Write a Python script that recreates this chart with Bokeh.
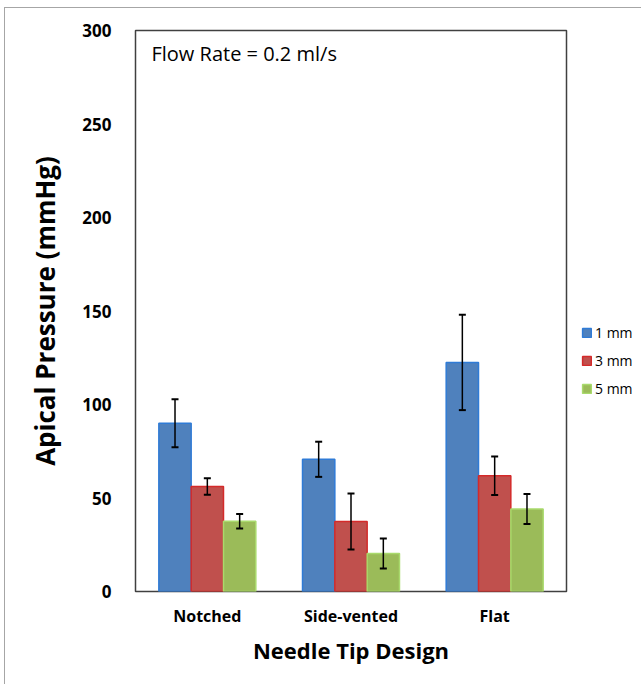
from bokeh.plotting import figure
from bokeh.layouts import row
from bokeh.models import (ColumnDataSource, FactorRange, Whisker, TeeHead, Legend,
                          LegendItem, FixedTicker, Label, Range1d)
from bokeh.transform import dodge
from bokeh.embed import file_html
from bokeh.resources import INLINE

# ---- data ----
categories = ["Notched", "Side-vented", "Flat"]
series = ["1 mm", "3 mm", "5 mm"]
mm1 = [90.0, 70.7, 122.5]
err1 = [12.8, 9.4, 25.5]
mm3 = [56.1, 37.4, 61.9]
err3 = [4.4, 15.0, 10.3]
mm5 = [37.6, 20.3, 44.1]
err5 = [3.9, 8.0, 8.0]
y_ticks = [0, 50, 100, 150, 200, 250, 300]
note = "Flow Rate = 0.2 ml/s"
x_title = "Needle Tip Design"
y_title = "Apical Pressure (mmHg)"

FONT = "Open Sans"
fills = ["#4F81BD", "#C0504D", "#9BBB59"]
lines = ["#2F7BD6", "#D42A2A", "#A9DA6C"]
offsets = [-0.225, 0.0, 0.225]
bw = 0.225

vals = [mm1, mm3, mm5]
errs = [err1, err3, err5]
data = {"cat": categories}
for i in range(3):
    data[f"v{i}"] = vals[i]
    data[f"u{i}"] = [v + e for v, e in zip(vals[i], errs[i])]
    data[f"l{i}"] = [v - e for v, e in zip(vals[i], errs[i])]
src = ColumnDataSource(data)

p = figure(x_range=FactorRange(*categories), y_range=(0, 300),
           width=571, height=677, output_backend="svg", toolbar_location=None,
           min_border_left=130, min_border_right=10, min_border_top=22,
           min_border_bottom=94)
p.background_fill_color = "white"
p.border_fill_color = "white"
p.outline_line_color = "#404040"
p.outline_line_width = 1.5
p.xgrid.grid_line_color = None
p.ygrid.grid_line_color = None

renderers = []
for i in range(3):
    r = p.vbar(x=dodge("cat", offsets[i], range=p.x_range), top=f"v{i}", width=bw,
               source=src, fill_color=fills[i], line_color=lines[i], line_width=1.5)
    renderers.append(r)

for i in range(3):
    w = Whisker(base=dodge("cat", offsets[i], range=p.x_range), upper=f"u{i}",
                lower=f"l{i}", source=src, line_color="black", line_width=1.5,
                upper_head=TeeHead(size=7, line_color="black", line_width=2),
                lower_head=TeeHead(size=7, line_color="black", line_width=2),
                level="overlay")
    p.add_layout(w)

# axes
for ax in (p.xaxis[0], p.yaxis[0]):
    ax.axis_line_color = None
    ax.major_tick_line_color = None
    ax.minor_tick_line_color = None
    ax.major_label_text_font = FONT
    ax.major_label_text_font_style = "bold"
    ax.major_label_text_font_size = "16px"
    ax.major_label_text_color = "black"
    ax.axis_label_text_font = FONT
    ax.axis_label_text_font_style = "bold"
    ax.axis_label_text_color = "black"

p.yaxis.ticker = FixedTicker(ticks=y_ticks)
p.yaxis.major_label_text_font_size = "17px"
p.yaxis.major_label_standoff = 18
p.yaxis.axis_label = y_title
p.yaxis.axis_label_text_font_size = "26px"
p.yaxis.axis_label_standoff = 16

p.xaxis.major_label_standoff = 7
p.xaxis.axis_label = x_title
p.xaxis.axis_label_text_font_size = "22px"
p.xaxis.axis_label_standoff = 5

# annotation text
p.add_layout(Label(x=0.111, y=287.7, text=note, text_font=FONT, text_font_size="20px",
                   text_baseline="middle", text_align="left", text_color="black"))

# legend panel (separate small figure to the right of the plot area)
q = figure(width=66, height=677, output_backend="svg", toolbar_location=None,
           x_range=Range1d(0, 1), y_range=Range1d(0, 1),
           x_axis_location=None, y_axis_location=None,
           min_border_left=0, min_border_right=0, min_border_top=0, min_border_bottom=0)
q.outline_line_color = None
q.xgrid.grid_line_color = None
q.ygrid.grid_line_color = None
q.background_fill_color = "white"
q.border_fill_color = "white"
legend_renderers = []
for i in range(3):
    # swatch-only renderers, kept far outside the visible range of this panel
    lr = q.vbar(x=[10], bottom=[-11], top=[-10], width=0.1, fill_color=fills[i],
                line_color=lines[i], line_width=1.5)
    legend_renderers.append(lr)

legend = Legend(items=[LegendItem(label=series[i], renderers=[legend_renderers[i]]) for i in range(3)],
                location=(5, 193), glyph_width=11, glyph_height=11, label_height=20,
                spacing=8, padding=0, margin=0, label_standoff=3,
                label_text_font=FONT, label_text_font_size="14px",
                label_text_color="black",
                border_line_alpha=0, background_fill_alpha=0)
q.add_layout(legend)

layout = row(p, q, spacing=0)
layout.margin = (7, 0, 0, 4)
layout.styles = {"border-left": "1px solid #a6a6a6", "border-top": "1px solid #a6a6a6"}

open("out.html", "w").write(file_html(layout, INLINE))
